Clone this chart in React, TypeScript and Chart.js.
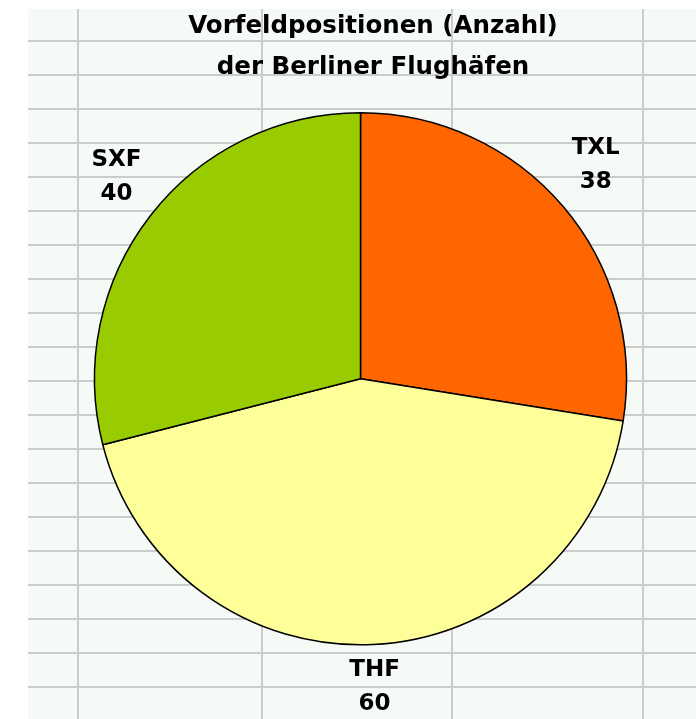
import React, { useEffect, useRef } from "react";
import { Chart, registerables } from "chart.js";

Chart.register(...registerables);

// ---- data ----
const categories: string[] = ["TXL", "THF", "SXF"];
const positionCounts: number[] = [38, 60, 40];
const sliceColors: string[] = ["#ff6600", "#ffff99", "#99cc00"];
const titleLines: string[] = ["Vorfeldpositionen (Anzahl)", "der Berliner Flughäfen"];

// ---- decorative worksheet grid (Excel look) ----
const sheetLeft = 28;
const sheetTop = 9;
const rowFirstLine = 40;
const rowStep = 34;
const columnLinesX: number[] = [77, 261, 451, 642];
const sheetBg = "#f6faf6";
const gridLineColor = "#cccccc";

const FONT = "'DejaVu Sans', 'Liberation Sans', Arial, sans-serif";

const worksheetPlugin = {
  id: "worksheet",
  beforeDraw(chart: any) {
    const { ctx, width, height } = chart;
    ctx.save();
    ctx.fillStyle = "#ffffff";
    ctx.fillRect(0, 0, width, height);
    ctx.fillStyle = sheetBg;
    ctx.fillRect(sheetLeft, sheetTop, width - sheetLeft, height - sheetTop);
    ctx.fillStyle = gridLineColor;
    for (let y = rowFirstLine; y < height; y += rowStep) {
      ctx.fillRect(sheetLeft, y, width - sheetLeft, 2);
    }
    columnLinesX.forEach((x) => ctx.fillRect(x, sheetTop, 2, height - sheetTop));
    ctx.restore();
  },
};

const sliceLabelPlugin = {
  id: "sliceLabels",
  afterDatasetsDraw(chart: any) {
    const { ctx } = chart;
    const meta = chart.getDatasetMeta(0);
    const values = chart.data.datasets[0].data as number[];
    const labels = chart.data.labels as string[];
    ctx.save();
    ctx.font = `bold 23px ${FONT}`;
    ctx.fillStyle = "#000000";
    ctx.textAlign = "center";
    ctx.textBaseline = "middle";
    meta.data.forEach((arc: any, i: number) => {
      const { x, y, startAngle, endAngle, outerRadius } = arc.getProps(
        ["x", "y", "startAngle", "endAngle", "outerRadius"],
        true
      );
      const mid = (startAngle + endAngle) / 2;
      const c = Math.cos(mid);
      const s = Math.sin(mid);
      const r = outerRadius + 43;
      const lx = x + r * c;
      const ly = y + r * s + Math.min(0, s) * 20;
      ctx.fillText(labels[i], lx, ly - 17);
      ctx.fillText(String(values[i]), lx, ly + 17);
    });
    ctx.restore();
  },
};

export default function App() {
  const canvasRef = useRef<HTMLCanvasElement | null>(null);

  useEffect(() => {
    if (!canvasRef.current) return;
    const chart = new Chart(canvasRef.current, {
      type: "pie",
      data: {
        labels: categories,
        datasets: [
          {
            data: positionCounts,
            backgroundColor: sliceColors,
            borderColor: "#000000",
            borderWidth: 1.5,
          },
        ],
      },
      options: {
        responsive: false,
        animation: false,
        radius: 266,
        rotation: 0,
        layout: { padding: { left: 50, right: 0, top: 0, bottom: 69 } },
        plugins: {
          title: {
            display: true,
            text: titleLines,
            color: "#000000",
            font: { family: FONT, size: 24.5, weight: "bold", lineHeight: 1.667 },
            padding: { top: 6, bottom: 20 },
          },
          legend: {
            display: true,
            position: "right",
            labels: { filter: () => false, padding: 15 },
          },
          tooltip: { enabled: false },
        },
      } as any,
      plugins: [worksheetPlugin, sliceLabelPlugin],
    });
    return () => chart.destroy();
  }, []);

  return (
    <div style={{ position: "absolute", left: 0, top: 0, width: 696, height: 719 }}>
      <canvas ref={canvasRef} width={696} height={719} style={{ display: "block" }} />
    </div>
  );
}
